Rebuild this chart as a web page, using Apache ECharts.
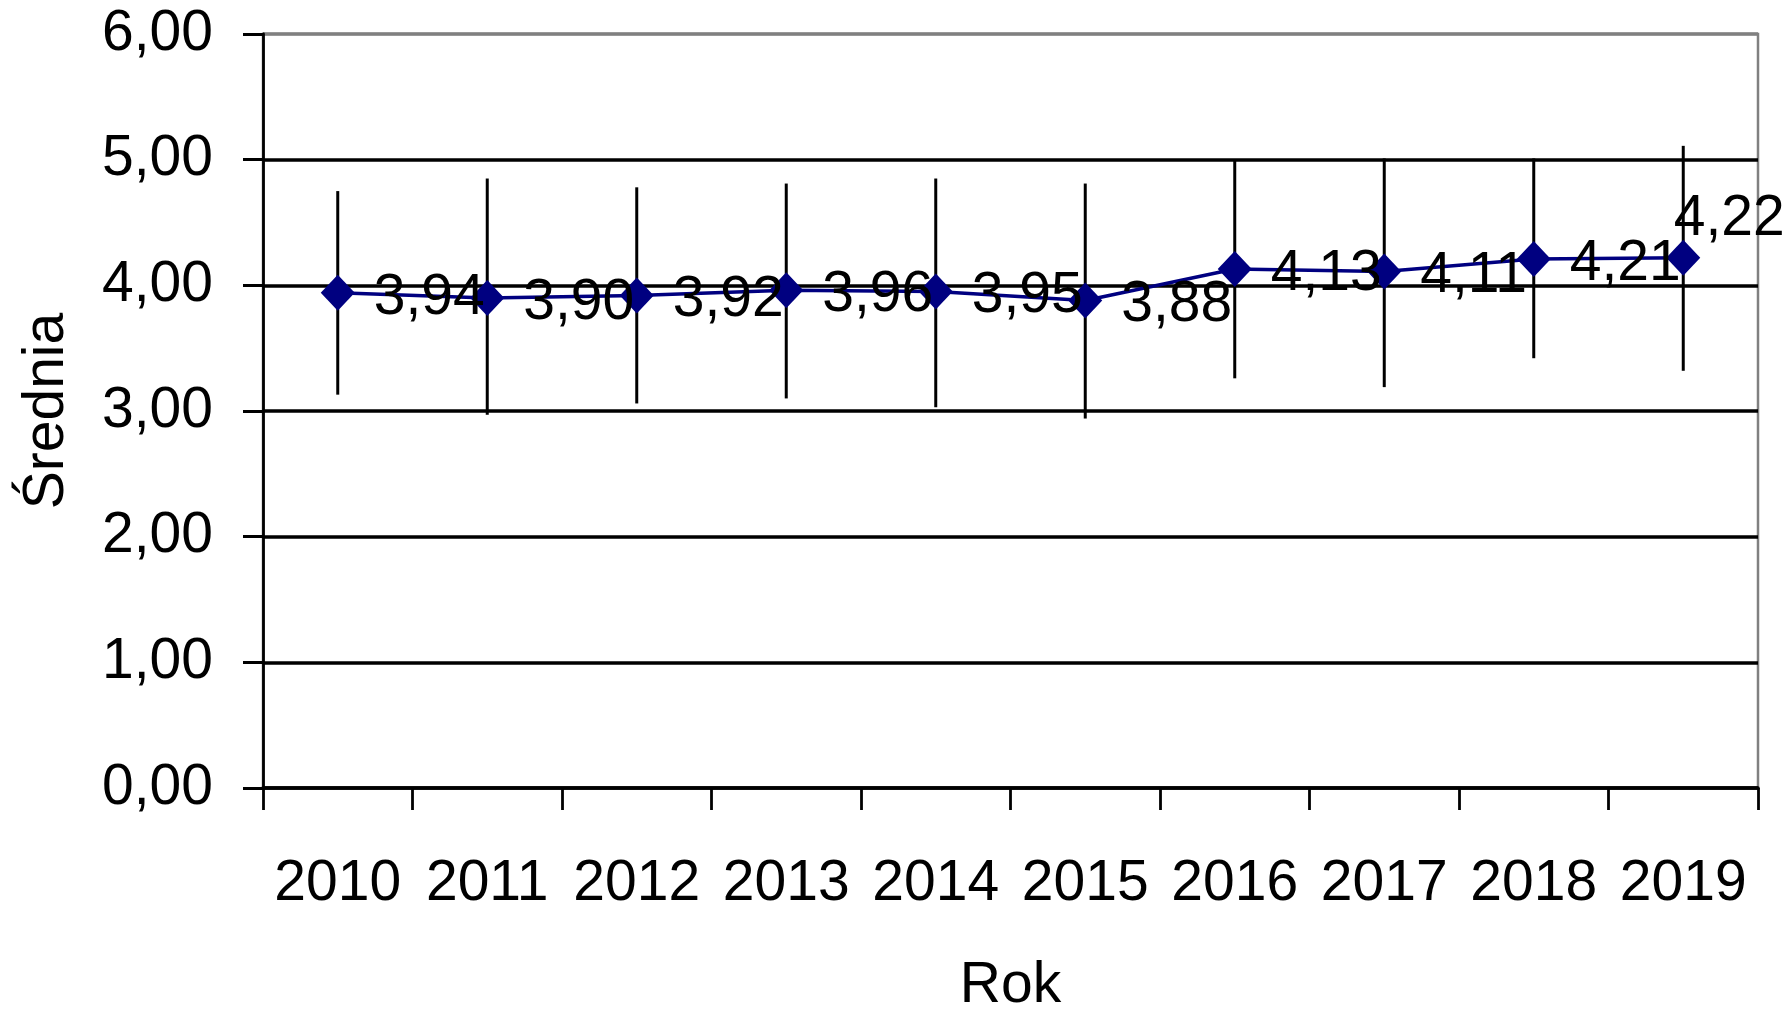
<!DOCTYPE html>
<html>
<head>
<meta charset="utf-8">
<script src="https://cdn.jsdelivr.net/npm/echarts@6/dist/echarts.min.js"></script>
<style>
html,body{margin:0;padding:0;background:#fff;}
#chart{width:1787px;height:1020px;}
</style>
</head>
<body>
<div id="chart"></div>
<script>
const years = ['2010','2011','2012','2013','2014','2015','2016','2017','2018','2019'];
const means = [3.94, 3.90, 3.92, 3.96, 3.95, 3.88, 4.13, 4.11, 4.21, 4.22];
const errLow = [3.13, 2.97, 3.06, 3.10, 3.03, 2.94, 3.26, 3.19, 3.42, 3.32];
const errHigh = [4.75, 4.85, 4.78, 4.81, 4.85, 4.81, 4.99, 5.01, 5.01, 5.11];
const yAxisTitle = 'Średnia';
const xAxisTitle = 'Rok';

const FONT = '"Liberation Sans", Arial, Helvetica, sans-serif';
const fmt = v => Number(v).toFixed(2).replace('.', ',');

const chart = echarts.init(document.getElementById('chart'), null, {renderer: 'canvas'});

const lineData = means.map((v, i) => {
  if (i === means.length - 1) {
    return {value: v, label: {position: 'top', offset: [46, 27]}};
  }
  return {value: v};
});

chart.setOption({
  animation: false,
  backgroundColor: '#ffffff',
  grid: {
    left: 263, right: 29, top: 34, bottom: 223,
    show: true, borderColor: '#808080', borderWidth: 2.5, backgroundColor: 'transparent'
  },
  xAxis: {
    type: 'category',
    data: years,
    boundaryGap: true,
    name: xAxisTitle,
    nameLocation: 'middle',
    nameGap: 170,
    nameTextStyle: {fontFamily: FONT, fontSize: 57, color: '#000'},
    axisLine: {show: true, lineStyle: {color: '#000', width: 3.5}},
    axisTick: {show: true, length: 22, lineStyle: {color: '#000', width: 2.8}},
    axisLabel: {fontFamily: FONT, fontSize: 57, color: '#000', margin: 68, interval: 0},
    splitLine: {show: false}
  },
  yAxis: {
    type: 'value',
    min: 0, max: 6, interval: 1,
    name: yAxisTitle,
    nameLocation: 'middle',
    nameGap: 187,
    nameRotate: 90,
    nameTextStyle: {fontFamily: FONT, fontSize: 57, color: '#000'},
    axisLine: {show: true, lineStyle: {color: '#000', width: 2.8}},
    axisTick: {show: true, length: 20, lineStyle: {color: '#000', width: 3}},
    axisLabel: {fontFamily: FONT, fontSize: 57, color: '#000', margin: 50, formatter: v => fmt(v)},
    splitLine: {show: true, lineStyle: {color: ['#000','#000','#000','#000','#000','#000','#808080'], width: 3.5}}
  },
  series: [
    {
      type: 'custom',
      z: 2,
      silent: true,
      data: years.map((y, i) => [i, errLow[i], errHigh[i]]),
      renderItem: function (params, api) {
        const p1 = api.coord([api.value(0), api.value(1)]);
        const p2 = api.coord([api.value(0), api.value(2)]);
        return {
          type: 'line',
          shape: {x1: p1[0], y1: p1[1], x2: p2[0], y2: p2[1]},
          style: {stroke: '#000', lineWidth: 3}
        };
      }
    },
    {
      type: 'line',
      z: 3,
      data: lineData,
      symbol: 'diamond',
      symbolSize: [34, 36],
      itemStyle: {color: '#000080'},
      lineStyle: {color: '#000080', width: 3.5},
      label: {
        show: true,
        position: 'right',
        distance: 19,
        offset: [0, 5],
        fontFamily: FONT,
        fontSize: 57,
        color: '#000',
        formatter: p => fmt(p.value)
      }
    }
  ]
});
</script>
</body>
</html>
